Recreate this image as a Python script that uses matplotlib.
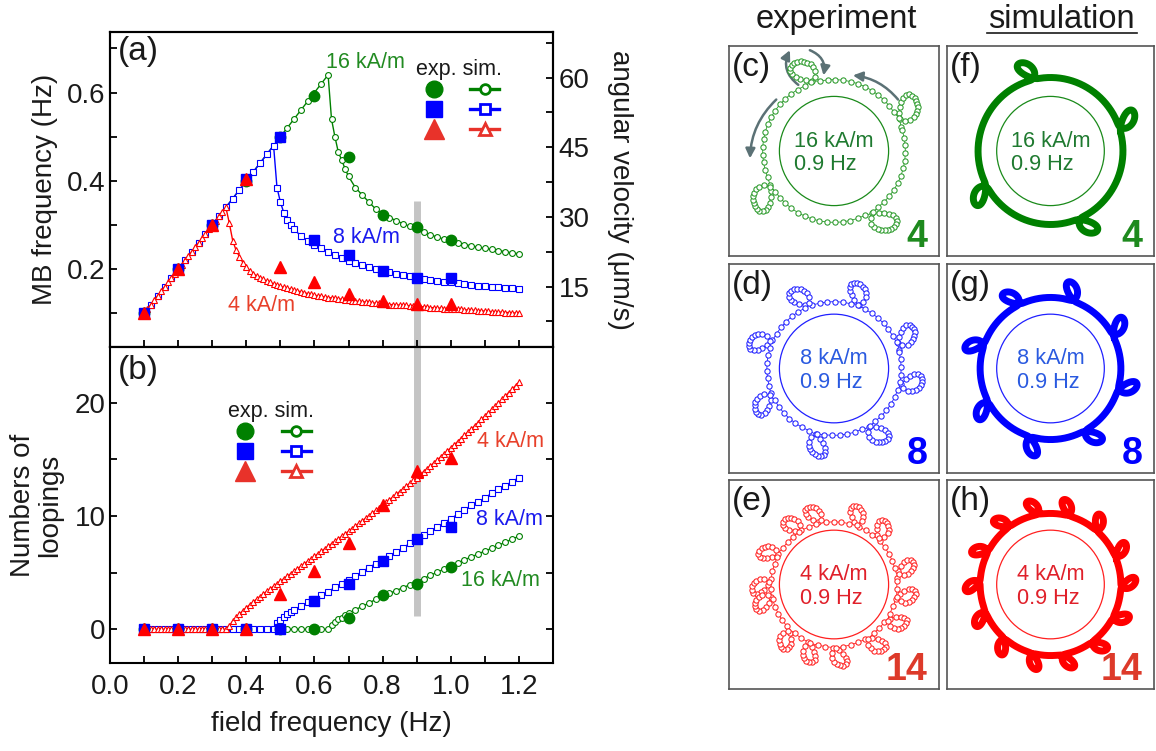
import numpy as np
import matplotlib
matplotlib.use('Agg')
import matplotlib.pyplot as plt
from matplotlib.lines import Line2D
from matplotlib.patches import Circle, FancyArrowPatch
from matplotlib.ticker import MultipleLocator, FormatStrFormatter

plt.rcParams['font.family'] = ['Liberation Sans', 'DejaVu Sans']
plt.rcParams['axes.linewidth'] = 1.5

# ---- experiment (filled symbols) ----
freq_exp = [0.1, 0.2, 0.3, 0.4, 0.5, 0.6, 0.7, 0.8, 0.9, 1.0]
mb_exp_16 = [0.10, 0.20, 0.30, 0.40, 0.50, 0.593, 0.455, 0.323, 0.296, 0.266]
mb_exp_8 = [0.10, 0.20, 0.30, 0.405, 0.499, 0.266, 0.232, 0.197, 0.181, 0.180]
mb_exp_4 = [0.10, 0.20, 0.30, 0.405, 0.205, 0.170, 0.144, 0.127, 0.121, 0.121]
loops_exp_16 = [0, 0, 0, 0, 0, 0, 1.0, 3.0, 4.0, 5.5]
loops_exp_8 = [0, 0, 0, 0, 0, 2.5, 4.0, 6.0, 8.0, 9.0]
loops_exp_4 = [0, 0, 0, 0, 3.1, 5.1, 7.6, 11.0, 14.0, 15.1]

# ---- simulation (open symbols) ----
freq_sim_16 = [0.10, 0.12, 0.14, 0.16, 0.18, 0.20, 0.22, 0.24, 0.26, 0.28, 0.30, 0.32, 0.34, 0.36,
               0.38, 0.40, 0.42, 0.44, 0.46, 0.48, 0.50, 0.52, 0.54, 0.56, 0.58, 0.60, 0.62, 0.64,
               0.65, 0.66, 0.67, 0.68, 0.69, 0.70,
               0.72, 0.74, 0.76, 0.78, 0.80, 0.82, 0.84, 0.86, 0.88, 0.90, 0.92, 0.94, 0.96, 0.98,
               1.00, 1.02, 1.04, 1.06, 1.08, 1.10, 1.12, 1.14, 1.16, 1.18, 1.20]
mb_sim_16 = [0.10, 0.12, 0.14, 0.16, 0.18, 0.20, 0.22, 0.24, 0.26, 0.28, 0.30, 0.32, 0.34, 0.36,
             0.38, 0.40, 0.42, 0.44, 0.46, 0.48, 0.50, 0.52, 0.54, 0.56, 0.58, 0.60, 0.62, 0.64,
             0.54, 0.50, 0.465, 0.447, 0.427, 0.41,
             0.385, 0.368, 0.352, 0.336, 0.325, 0.317, 0.310, 0.303, 0.297, 0.291, 0.284, 0.278,
             0.273, 0.268, 0.264, 0.260, 0.256, 0.253, 0.250, 0.247, 0.245, 0.242, 0.240, 0.237, 0.235]
loops_sim_16 = [0, 0, 0, 0, 0, 0, 0, 0, 0, 0, 0, 0, 0, 0,
                0, 0, 0, 0, 0, 0, 0, 0, 0, 0, 0, 0, 0, 0,
                0.41, 0.64, 0.88, 1.04, 1.23, 1.41,
                1.74, 2.02, 2.32, 2.64, 2.92, 3.17, 3.42, 3.68, 3.93, 4.19, 4.48, 4.76,
                5.03, 5.31, 5.58, 5.85, 6.13, 6.38, 6.64, 6.91, 7.14, 7.42, 7.67, 7.96, 8.21]

freq_sim_8 = [0.10, 0.12, 0.14, 0.16, 0.18, 0.20, 0.22, 0.24, 0.26, 0.28, 0.30, 0.32, 0.34, 0.36,
              0.38, 0.40, 0.42, 0.44, 0.46, 0.48,
              0.49, 0.50, 0.51, 0.52, 0.53, 0.54,
              0.56, 0.58, 0.60, 0.62, 0.64, 0.66, 0.68, 0.70, 0.72, 0.74, 0.76, 0.78, 0.80, 0.82,
              0.84, 0.86, 0.88, 0.90, 0.92, 0.94, 0.96, 0.98, 1.00, 1.02, 1.04, 1.06, 1.08, 1.10,
              1.12, 1.14, 1.16, 1.18, 1.20]
mb_sim_8 = [0.10, 0.12, 0.14, 0.16, 0.18, 0.20, 0.22, 0.24, 0.26, 0.28, 0.30, 0.32, 0.34, 0.36,
            0.38, 0.40, 0.42, 0.44, 0.46, 0.48,
            0.385, 0.352, 0.328, 0.312, 0.300, 0.290,
            0.276, 0.265, 0.256, 0.247, 0.240, 0.232, 0.225, 0.219, 0.214, 0.209, 0.204, 0.200,
            0.196, 0.193, 0.190, 0.187, 0.184, 0.181, 0.178, 0.176, 0.174, 0.172, 0.170, 0.168,
            0.166, 0.164, 0.163, 0.162, 0.160, 0.159, 0.158, 0.157, 0.156]
loops_sim_8 = [0, 0, 0, 0, 0, 0, 0, 0, 0, 0, 0, 0, 0, 0,
               0, 0, 0, 0, 0, 0,
               0.55, 0.84, 1.11, 1.33, 1.53, 1.72,
               2.06, 2.38, 2.69, 3.02, 3.33, 3.69, 4.04, 4.39, 4.73, 5.08, 5.45, 5.80,
               6.16, 6.50, 6.84, 7.20, 7.57, 7.94, 8.34, 8.68, 9.03, 9.40, 9.76, 10.14,
               10.53, 10.93, 11.25, 11.58, 12.00, 12.34, 12.68, 13.03, 13.38]

freq_sim_4 = np.round(np.arange(0.10, 1.205, 0.01), 2)
mb_sim_4 = [0.10, 0.11, 0.12, 0.13, 0.14, 0.15, 0.16, 0.17, 0.18, 0.19, 0.20, 0.21, 0.22,
            0.23, 0.24, 0.25, 0.26, 0.27, 0.28, 0.29, 0.30, 0.31, 0.32, 0.33, 0.34,
            0.305, 0.265, 0.243, 0.228, 0.215, 0.205, 0.197, 0.190, 0.185, 0.181,
            0.177, 0.173, 0.170, 0.167, 0.164, 0.161, 0.159, 0.157, 0.155, 0.153,
            0.151, 0.149, 0.147, 0.145, 0.143, 0.141, 0.140, 0.139, 0.137, 0.136,
            0.135, 0.134, 0.133, 0.132, 0.131, 0.130, 0.129, 0.128, 0.127, 0.126,
            0.126, 0.125, 0.124, 0.123, 0.123, 0.122, 0.121, 0.120, 0.120, 0.119,
            0.119, 0.118, 0.118, 0.117, 0.117, 0.116, 0.115, 0.115, 0.114, 0.113,
            0.113, 0.112, 0.112, 0.111, 0.111, 0.110, 0.110, 0.109, 0.109, 0.108,
            0.108, 0.107, 0.107, 0.106, 0.106, 0.105, 0.105, 0.104, 0.104, 0.103,
            0.103, 0.102, 0.102, 0.101, 0.101, 0.100]
loops_sim_4 = [0, 0, 0, 0, 0, 0, 0, 0, 0, 0, 0, 0, 0,
               0, 0, 0, 0, 0, 0, 0, 0, 0, 0, 0, 0,
               0.30, 0.72, 1.05, 1.35, 1.65, 1.92, 2.17, 2.42, 2.66, 2.89,
               3.12, 3.35, 3.58, 3.80, 4.02, 4.24, 4.46, 4.68, 4.90, 5.12,
               5.34, 5.56, 5.78, 6.00, 6.22, 6.44, 6.66, 6.88, 7.10, 7.32,
               7.54, 7.76, 7.98, 8.20, 8.42, 8.65, 8.88, 9.11, 9.34, 9.57,
               9.80, 10.03, 10.26, 10.49, 10.72, 10.95, 11.19, 11.43, 11.67, 11.91,
               12.15, 12.39, 12.63, 12.88, 13.13, 13.38, 13.64, 13.90, 14.16, 14.42,
               14.68, 14.94, 15.20, 15.47, 15.74, 16.01, 16.28, 16.55, 16.83, 17.11,
               17.39, 17.67, 17.95, 18.23, 18.52, 18.81, 19.10, 19.39, 19.68, 19.98,
               20.28, 20.58, 20.88, 21.18, 21.49, 21.80]

# ---- trajectories at 0.9 Hz ----
fields = ['16 kA/m', '8 kA/m', '4 kA/m']
loop_counts = [4, 8, 14]
exp_loop_angles = [[26, 107, 209, 301],
                   [21, 69, 112, 157, 203, 254, 300, 346],
                   [10, 46, 69, 103, 122, 151, 178, 191, 226, 247, 271, 302, 326, 348]]
sim_loop_angles = [[18, 103, 208, 293],
                   [28, 71, 116, 160, 208, 253, 299, 343],
                   [23, 49, 75, 100, 126, 152, 178, 203, 229, 255, 280, 306, 332, 358]]

GREEN, BLUE, RED = '#008000', '#0000ff', '#ff0000'
TXT = '#1a1a1a'

W, H = 1156, 751
fig = plt.figure(figsize=(W / 100, H / 100), dpi=100)


def px_rect(x0, y0, x1, y1):
    return [x0 / W, 1 - y1 / H, (x1 - x0) / W, (y1 - y0) / H]


ax_a = fig.add_axes(px_rect(110, 32, 553, 347))
ax_b = fig.add_axes(px_rect(110, 347, 553, 663))

sim_style = dict(lw=1.0, mfc='white', mew=0.8)
series = [(freq_sim_16, mb_sim_16, loops_sim_16, GREEN, 'o', 4.2),
          (freq_sim_8, mb_sim_8, loops_sim_8, BLUE, 's', 3.8),
          (freq_sim_4, mb_sim_4, loops_sim_4, RED, '^', 4.8)]
for fx, mb, lp, c, m, ms in series:
    ax_a.plot(fx, mb, color=c, marker=m, ms=ms, **sim_style)
    ax_b.plot(fx, lp, color=c, marker=m, ms=ms, **sim_style)

exps = [(mb_exp_16, loops_exp_16, GREEN, 'o', 7.5),
        (mb_exp_8, loops_exp_8, BLUE, 's', 7.0),
        (mb_exp_4, loops_exp_4, RED, '^', 9.0)]
for mb, lp, c, m, ms in exps:
    ax_a.plot(freq_exp, mb, ls='none', color=c, marker=m, ms=ms, zorder=4)
    ax_b.plot(freq_exp, lp, ls='none', color=c, marker=m, ms=ms, zorder=4)

# grey marker of the 0.9 Hz slice
ax_a.axvline(0.9, ymin=0, ymax=0.464, color='#c4c4c4', lw=5, zorder=0.5, solid_capstyle='butt')
ax_b.axvline(0.9, ymin=0.149, ymax=1, color='#c4c4c4', lw=5, zorder=0.5, solid_capstyle='butt')

ax_a.set_xlim(0, 1.3)
ax_b.set_xlim(0, 1.3)
ax_a.set_ylim(0.024, 0.737)
ax_b.set_ylim(-2.97, 24.9)

for ax in (ax_a, ax_b):
    ax.xaxis.set_major_locator(MultipleLocator(0.2))
    ax.xaxis.set_minor_locator(MultipleLocator(0.1))
    ax.xaxis.set_major_formatter(FormatStrFormatter('%.1f'))
    ax.tick_params(which='both', direction='in', length=5, width=1.3, labelsize=20,
                   labelcolor=TXT, top=False)
    ax.tick_params(axis='y', pad=3)
ax_a.tick_params(axis='x', labelbottom=False)
ax_b.tick_params(axis='x', pad=8)
ax_b.tick_params(axis='y', which='both', right=True)

ax_a.yaxis.set_major_locator(MultipleLocator(0.2))
ax_a.yaxis.set_minor_locator(MultipleLocator(0.1))
ax_a.yaxis.set_major_formatter(FormatStrFormatter('%.1f'))
ax_b.yaxis.set_major_locator(MultipleLocator(10))
ax_b.yaxis.set_minor_locator(MultipleLocator(5))

ax_a2 = ax_a.twinx()
ax_a2.set_ylim(2.0, 69.8)
ax_a2.yaxis.set_major_locator(MultipleLocator(15))
ax_a2.yaxis.set_minor_locator(MultipleLocator(7.5))
ax_a2.tick_params(which='both', direction='in', length=5, width=1.3, labelsize=20,
                  labelcolor=TXT, pad=4)
ax_a2.set_ylabel('angular velocity (μm/s)', fontsize=20, color=TXT, rotation=270, va='bottom')
ax_a2.yaxis.set_label_coords(1.121, 0.5)

ax_a.set_ylabel('MB frequency (Hz)', fontsize=20, color=TXT)
ax_a.yaxis.set_label_coords(-0.117, 0.5)
ax_b.set_ylabel('Numbers of\nloopings', fontsize=20, color=TXT, linespacing=1.05)
ax_b.yaxis.set_label_coords(-0.106, 0.5)
ax_b.set_xlabel('field frequency (Hz)', fontsize=20, color=TXT, labelpad=8)

ax_a.text(0.018, 0.937, '(a)', transform=ax_a.transAxes, fontsize=24, color=TXT, va='center')
ax_b.text(0.018, 0.927, '(b)', transform=ax_b.transAxes, fontsize=24, color=TXT, va='center')

lab = dict(fontsize=15.5, va='center')
ax_a.text(0.634, 0.667, '16 kA/m', color='#228b22', **lab)
ax_a.text(0.653, 0.271, '8 kA/m', color='#1a1aee', **lab)
ax_a.text(0.345, 0.119, '4 kA/m', color='#e8402a', **lab)
ax_b.text(1.273, 16.56, '4 kA/m', color='#e8402a', ha='right', **lab)
ax_b.text(1.271, 9.65, '8 kA/m', color='#1a1aee', ha='right', **lab)
ax_b.text(1.262, 4.35, '16 kA/m', color='#228b22', ha='right', **lab)

# legends: first column experiment, second column simulation
exp_h = [Line2D([], [], ls='none', marker='o', color=GREEN, ms=12),
         Line2D([], [], ls='none', marker='s', color=BLUE, ms=12),
         Line2D([], [], ls='none', marker='^', color='#e8322a', ms=15)]
sim_h = [Line2D([], [], color=GREEN, marker='o', lw=2.4, mfc='white', mew=2, ms=7),
         Line2D([], [], color=BLUE, marker='s', lw=2.4, mfc='white', mew=2, ms=7),
         Line2D([], [], color='#e8322a', marker='^', lw=2.4, mfc='white', mew=2, ms=8)]
for ax, anchor in ((ax_a, (0.788, 0.914)), (ax_b, (0.363, 0.829))):
    leg = ax.legend(exp_h + sim_h, [''] * 6, ncol=2, title='exp. sim.', frameon=False,
                    loc='upper center', bbox_to_anchor=anchor, fontsize=14,
                    title_fontsize=15.5, handlelength=1.5, handletextpad=0.0,
                    columnspacing=1.13, labelspacing=0.12, borderpad=0, borderaxespad=0)
    leg.get_title().set_color(TXT)


# ---- trajectory panels ----
def orbit(angles, R, rho, k, tilt):
    # circle of radius R with a small teardrop loop at every angle in `angles`
    angs = np.sort(np.radians(angles))
    drift = 1.2 * rho
    th = np.linspace(0, 2 * np.pi, 90)
    phis, rs = [], []
    for i, a in enumerate(angs):
        u = rho * np.sin(th) + drift * (th / (2 * np.pi) - 0.5)
        v = k * rho * (1 - np.cos(th))
        phis.append(a + u / R + tilt * v)
        rs.append(R + v)
        nxt = angs[(i + 1) % len(angs)] + (2 * np.pi if i == len(angs) - 1 else 0)
        arc = np.linspace(a + drift / (2 * R), nxt - drift / (2 * R), 120)[1:-1]
        phis.append(arc)
        rs.append(np.full(arc.size, R))
    phi = np.concatenate(phis + [phis[0][:1]])
    r = np.concatenate(rs + [rs[0][:1]])
    return r * np.cos(phi), r * np.sin(phi), r


def beads(x, y, r, R, top, step):
    xf = np.interp(np.linspace(0, x.size - 1, x.size * 8), np.arange(x.size), x)
    yf = np.interp(np.linspace(0, y.size - 1, y.size * 8), np.arange(y.size), y)
    rf = np.hypot(xf, yf)
    wgt = 1 + 1.4 * np.clip((rf - R) / top, 0, 1)
    ds = np.hypot(np.diff(xf), np.diff(yf)) * (wgt[1:] + wgt[:-1]) / 2
    L = np.concatenate([[0], np.cumsum(ds)])
    tgt = np.arange(0, L[-1], step)
    return np.interp(tgt, L, xf), np.interp(tgt, L, yf)


rows_px = [(46, 256), (264, 473), (480, 689)]
cols_px = [(729, 939), (947, 1154)]
exp_params = [(0.68, 0.12, 1.0), (0.64, 0.095, 1.1), (0.60, 0.076, 1.2)]
sim_params = [(0.70, 0.075, 1.25), (0.68, 0.066, 1.3), (0.68, 0.056, 1.3)]
exp_cols = ['#2a9a2a', '#2020ff', '#ff2020']
sim_cols = ['#008000', '#0000ff', '#ff0000']
ring_cols = ['#1a8a1a', '#2020ff', '#ff2020']
mid_cols = ['#1f7a30', '#2a5ae0', '#e0202a']
num_cols = ['#1e8a1e', '#0000ff', '#dd3a2a']
letters = [('(c)', '(f)'), ('(d)', '(g)'), ('(e)', '(h)')]

small_axes = {}
for i, (y0, y1) in enumerate(rows_px):
    for j, (x0, x1) in enumerate(cols_px):
        ax = fig.add_axes(px_rect(x0, y0, x1, y1))
        ax.set_xlim(-1, 1)
        ax.set_ylim(-1, 1)
        ax.set_xticks([])
        ax.set_yticks([])
        for sp in ax.spines.values():
            sp.set_color('#555555')
            sp.set_linewidth(1.2)
        ax.add_patch(Circle((0, 0), 0.52, fill=False, ec=ring_cols[i], lw=0.9))
        if j == 0:
            R, rho, k = exp_params[i]
            x, y, r = orbit(exp_loop_angles[i], R, rho, k, 0.5)
            bx, by = beads(x, y, r, R, 2 * k * rho, 0.074)
            ax.plot(bx, by, '-', color=exp_cols[i], lw=0.6)
            ax.plot(bx, by, 'o', ls='none', color=exp_cols[i], mfc='white', ms=3.8, mew=0.75)
        else:
            R, rho, k = sim_params[i]
            x, y, r = orbit(sim_loop_angles[i], R, rho, k, 0.6)
            ax.plot(x, y, '-', color=sim_cols[i], lw=5.0, solid_capstyle='round',
                    solid_joinstyle='round')
        ax.text(0.5, 0.49, fields[i] + '\n0.9 Hz', transform=ax.transAxes, fontsize=15.7,
                color=mid_cols[i], ha='center', va='center', multialignment='left',
                linespacing=1.15)
        ax.text(0.945, 0.045, str(loop_counts[i]), transform=ax.transAxes, fontsize=27,
                fontweight='bold', color=num_cols[i], ha='right', va='baseline')
        ax.text(0.012, 0.898, letters[i][j], transform=ax.transAxes, fontsize=24,
                color=TXT, va='center')
        small_axes[(i, j)] = ax

# motion arrows in (c)
ax_c = small_axes[(0, 0)]
arrows = [((0.61, 0.49), (0.18, 0.72), 0.2), ((-0.55, 0.49), (-0.80, -0.07), 0.2),
          ((-0.34, 0.63), (-0.42, 0.96), -0.4), ((-0.23, 0.96), (-0.10, 0.72), -0.4)]
for p0, p1, rad in arrows:
    ax_c.add_patch(FancyArrowPatch(p0, p1, connectionstyle=f'arc3,rad={rad}',
                                   arrowstyle='-|>', mutation_scale=14, lw=1.8,
                                   color='#5b7175', shrinkA=0, shrinkB=0))

fig.text(836.7 / W, 1 - 28.3 / H, 'experiment', fontsize=23.5, color=TXT,
         ha='center', va='baseline')
fig.text(1061.7 / W, 1 - 28.3 / H, 'simulation', fontsize=23.5, color=TXT,
         ha='center', va='baseline')
fig.add_artist(Line2D([986.7 / W, 1136.7 / W], [1 - 33 / H, 1 - 33 / H], color=TXT, lw=1.2))

fig.savefig('out.png', dpi=100)
